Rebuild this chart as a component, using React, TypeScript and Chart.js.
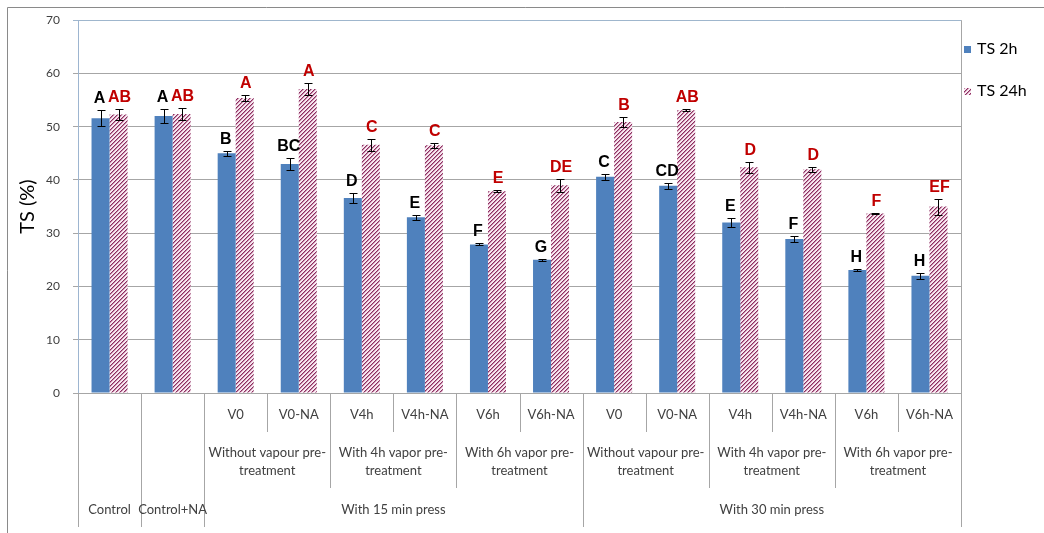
import React, { useEffect, useRef } from 'react';
import { Chart, registerables } from 'chart.js';

Chart.register(...registerables);

// Treatment codes along the x axis (top row of the category table)
const categories = [
  'Control', 'Control+NA',
  'V0', 'V0-NA', 'V4h', 'V4h-NA', 'V6h', 'V6h-NA',
  'V0', 'V0-NA', 'V4h', 'V4h-NA', 'V6h', 'V6h-NA',
];
const subRowLabels = ['', '', 'V0', 'V0-NA', 'V4h', 'V4h-NA', 'V6h', 'V6h-NA', 'V0', 'V0-NA', 'V4h', 'V4h-NA', 'V6h', 'V6h-NA'];

// Second row: vapour pre-treatment groups (start/end category indices)
const treatmentLabels = [
  ['Without vapour pre-', 'treatment'],
  ['With 4h vapor pre-', 'treatment'],
  ['With 6h vapor pre-', 'treatment'],
  ['Without vapour pre-', 'treatment'],
  ['With 4h vapor pre-', 'treatment'],
  ['With 6h vapor pre-', 'treatment'],
];
const treatmentStarts = [2, 4, 6, 8, 10, 12];
const treatmentEnds = [4, 6, 8, 10, 12, 14];

// Bottom row: controls and pressing time groups
const bottomLabels = ['Control', 'Control+NA', 'With 15 min press', 'With 30 min press'];
const bottomStarts = [0, 1, 2, 8];
const bottomEnds = [1, 2, 8, 14];

// Thickness swelling (%) after 2 h and 24 h, with standard deviations
const ts2h = [51.6, 52.0, 45.0, 43.0, 36.6, 33.0, 27.9, 25.0, 40.6, 38.9, 32.0, 28.9, 23.1, 22.0];
const ts2hErr = [1.5, 1.3, 0.5, 1.2, 1.0, 0.5, 0.2, 0.2, 0.6, 0.6, 0.9, 0.6, 0.1, 0.6];
const ts24h = [52.3, 52.4, 55.4, 57.1, 46.6, 46.5, 37.9, 39.0, 50.9, 53.1, 42.4, 42.0, 33.7, 35.0];
const ts24hErr = [1.0, 1.1, 0.6, 1.2, 1.1, 0.5, 0.2, 1.2, 1.0, 0.2, 1.0, 0.5, 0.15, 1.5];

// Significance groupings
const letters2h = ['A', 'A', 'B', 'BC', 'D', 'E', 'F', 'G', 'C', 'CD', 'E', 'F', 'H', 'H'];
const letters24h = ['AB', 'AB', 'A', 'A', 'C', 'C', 'E', 'DE', 'B', 'AB', 'D', 'D', 'F', 'EF'];

const yTicks = [0, 10, 20, 30, 40, 50, 60, 70];
const seriesNames = ['TS 2h', 'TS 24h'];

const BLUE = '#4f81bd';
const HATCH_LINE = '#8b2f60';
const HATCH_EDGE = '#c98aab';
const HATCH_BG = '#f7e8f0';
const RED = '#c00000';
const LINE = '#a6a6a6';
const TEXT = '#404040';
const UI_FONT = 'Lato, "Open Sans", sans-serif';

// Upward diagonal stripes, 4 px period
function makeHatch(ctx: CanvasRenderingContext2D): CanvasPattern | string {
  const c = document.createElement('canvas');
  c.width = 4;
  c.height = 4;
  const g = c.getContext('2d');
  if (!g) return HATCH_LINE;
  g.fillStyle = HATCH_BG;
  g.fillRect(0, 0, 4, 4);
  for (let x = 0; x < 4; x++) {
    g.fillStyle = HATCH_LINE;
    g.fillRect(x, 3 - x, 1, 1);
    g.fillStyle = HATCH_EDGE;
    g.fillRect(x, (4 - x) % 4, 1, 1);
  }
  return ctx.createPattern(c, 'repeat') || HATCH_LINE;
}

export default function App() {
  const ref = useRef<HTMLCanvasElement | null>(null);

  useEffect(() => {
    const canvas = ref.current;
    if (!canvas) return;
    const ctx0 = canvas.getContext('2d')!;
    const hatch = makeHatch(ctx0);

    const decor = {
      id: 'decor',
      beforeDraw(chart: any) {
        const ctx = chart.ctx as CanvasRenderingContext2D;
        ctx.save();
        ctx.fillStyle = '#ffffff';
        ctx.fillRect(0, 0, chart.width, chart.height);
        ctx.strokeStyle = '#8a8a8a';
        ctx.lineWidth = 1;
        ctx.beginPath();
        ctx.moveTo(7.5, chart.height);
        ctx.lineTo(7.5, 7.5);
        ctx.lineTo(chart.width, 7.5);
        ctx.stroke();
        ctx.restore();
      },
      afterDatasetsDraw(chart: any) {
        const ctx = chart.ctx as CanvasRenderingContext2D;
        const y = chart.scales.y;
        const { left, right, top, bottom } = chart.chartArea;
        const n = categories.length;
        const w = (right - left) / n;
        ctx.save();

        // error bars and significance letters
        const sets = [
          { vals: ts2h, errs: ts2hErr, letters: letters2h, color: '#000000', shift: -1 },
          { vals: ts24h, errs: ts24hErr, letters: letters24h, color: RED, shift: 1 },
        ];
        sets.forEach((s, di) => {
          const meta = chart.getDatasetMeta(di);
          meta.data.forEach((bar: any, i: number) => {
            const x = Math.round(bar.x) + 0.5;
            const yt = Math.round(y.getPixelForValue(s.vals[i] + s.errs[i])) + 0.5;
            const yb = Math.round(y.getPixelForValue(s.vals[i] - s.errs[i])) + 0.5;
            ctx.strokeStyle = '#000000';
            ctx.lineWidth = 1;
            ctx.beginPath();
            ctx.moveTo(x, yt);
            ctx.lineTo(x, yb);
            ctx.moveTo(x - 4, yt);
            ctx.lineTo(x + 4, yt);
            ctx.moveTo(x - 4, yb);
            ctx.lineTo(x + 4, yb);
            ctx.stroke();
            ctx.fillStyle = s.color;
            ctx.font = 'bold 16px "Liberation Sans", Arial, sans-serif';
            ctx.textAlign = 'center';
            ctx.textBaseline = 'alphabetic';
            ctx.fillText(s.letters[i], bar.x + s.shift, yt - 8);
          });
        });

        // right edge of the plot and category table
        const tableBottom = 527;
        ctx.strokeStyle = LINE;
        ctx.lineWidth = 1;
        for (let k = 0; k <= n; k++) {
          let depth = 432;
          if (treatmentStarts.includes(k) || treatmentEnds.includes(k)) depth = 488;
          if (bottomStarts.includes(k) || bottomEnds.includes(k)) depth = tableBottom;
          const x = Math.round(left + k * w) + 0.5;
          ctx.beginPath();
          ctx.moveTo(x, k === n ? top : bottom);
          ctx.lineTo(x, depth);
          ctx.stroke();
        }

        ctx.fillStyle = TEXT;
        ctx.font = `13px ${UI_FONT}`;
        ctx.textAlign = 'center';
        ctx.textBaseline = 'middle';
        subRowLabels.forEach((lab, i) => {
          if (lab) ctx.fillText(lab, left + (i + 0.5) * w, 415);
        });
        treatmentLabels.forEach((lines, gi) => {
          const cx = left + ((treatmentStarts[gi] + treatmentEnds[gi]) / 2) * w;
          lines.forEach((ln, li) => ctx.fillText(ln, cx, 453 + li * 18));
        });
        bottomLabels.forEach((lab, gi) => {
          const cx = left + ((bottomStarts[gi] + bottomEnds[gi]) / 2) * w;
          ctx.fillText(lab, cx, 510);
        });

        // axis title
        ctx.save();
        ctx.translate(28, (top + bottom) / 2);
        ctx.rotate(-Math.PI / 2);
        ctx.fillStyle = '#000000';
        ctx.font = `20px ${UI_FONT}`;
        ctx.textAlign = 'center';
        ctx.textBaseline = 'middle';
        ctx.fillText('TS (%)', 0, 0);
        ctx.restore();

        // legend
        const legendX = right + 3;
        const legendY = [49, 91];
        const fills: (string | CanvasPattern)[] = [BLUE, hatch];
        seriesNames.forEach((name, i) => {
          ctx.fillStyle = fills[i];
          ctx.fillRect(legendX, legendY[i] - 3, 7, 7);
          ctx.fillStyle = '#000000';
          ctx.font = `16px ${UI_FONT}`;
          ctx.textAlign = 'left';
          ctx.textBaseline = 'middle';
          ctx.fillText(name, legendX + 13, legendY[i]);
        });

        ctx.restore();
      },
    };

    const chart = new Chart(canvas, {
      type: 'bar',
      data: {
        labels: categories,
        datasets: [
          { label: seriesNames[0], data: ts2h, backgroundColor: BLUE, borderWidth: 0 },
          { label: seriesNames[1], data: ts24h, backgroundColor: hatch as any, borderWidth: 0 },
        ],
      },
      options: {
        responsive: false,
        animation: false,
        devicePixelRatio: 1,
        layout: { padding: { left: 0, top: 20, right: 83, bottom: 140 } },
        datasets: { bar: { categoryPercentage: 0.571, barPercentage: 1 } },
        plugins: { legend: { display: false }, tooltip: { enabled: false }, title: { display: false } },
        scales: {
          x: { type: 'category', display: false, grid: { display: false } },
          y: {
            min: 0,
            max: 70,
            afterFit: (s: any) => { s.width = 78; },
            afterBuildTicks: (s: any) => { s.ticks = yTicks.map((v) => ({ value: v })); },
            ticks: { color: TEXT, font: { family: UI_FONT, size: 12 }, padding: 13 },
            grid: {
              color: (c: any) => (c.tick && c.tick.value === 70 ? '#9fb6cd' : LINE),
              tickLength: 5,
              drawTicks: true,
            },
            border: { color: '#9db5d0' },
          },
        },
      },
      plugins: [decor],
    });

    return () => chart.destroy();
  }, []);

  return (
    <div style={{ position: 'absolute', left: 0, top: 0, width: 1044, height: 533 }}>
      <canvas ref={ref} width={1044} height={533} />
    </div>
  );
}
